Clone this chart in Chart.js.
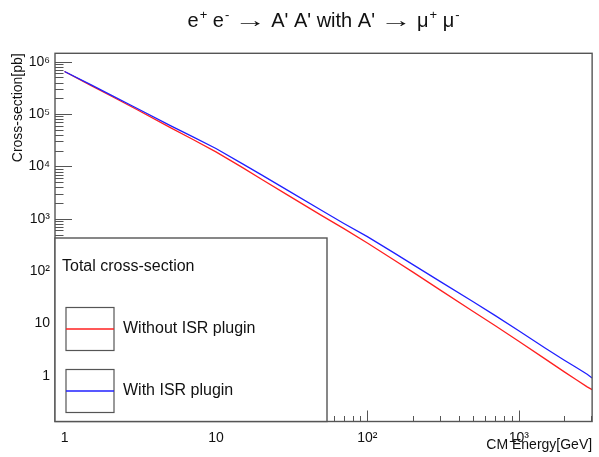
<!DOCTYPE html>
<html>
<head>
<meta charset="utf-8">
<script src="https://cdn.jsdelivr.net/npm/chart.js@4/dist/chart.umd.min.js"></script>
<style>
  html, body { margin: 0; padding: 0; background: #fff; }
  canvas { display: block; }
</style>
</head>
<body>
<canvas id="xsec" width="599" height="457"></canvas>
<script>
// ===== e+e- -> A'A' (A' -> mu+ mu-) total cross-section vs CM energy =====
const ENERGY      = [1, 1.5, 2, 3, 5, 7, 10, 15, 20, 30, 50, 70, 100, 150, 200, 300, 500, 700, 1000, 1500, 2000, 2400, 2830, 3050];
const XSEC_NO_ISR = [6.5e5, 3.5e5, 2.26e5, 1.22e5, 5.5e4, 3.3e4, 1.9e4, 9.5e3, 5.7e3, 2.8e3, 1150, 650, 347, 164, 96, 44.5, 17.1, 9.1, 4.6, 2.1, 1.2, 0.85, 0.62, 0.55];
const XSEC_ISR    = [6.5e5, 3.6e5, 2.35e5, 1.29e5, 6.0e4, 3.7e4, 2.2e4, 1.12e4, 6.9e3, 3.46e3, 1440, 817, 457, 224, 134, 64.7, 26.1, 14.2, 7.3, 3.4, 2.0, 1.45, 1.08, 0.92];

const X_MAJOR  = [1, 10, 100, 1000];
const X_LABELS = ["1", "10", "10²", "10³"];
const Y_MAJOR  = [1, 10, 100, 1e3, 1e4, 1e5, 1e6];
const Y_LABELS = ["1", "10", "10²", "10³", "10⁴", "10⁵", "10⁶"];
const X_RANGE  = [0.865, 3052];
const Y_RANGE  = [0.1355, 1.445e6];

// title as TLatex-like pieces: [text, superscript?]
const TITLE_PARTS = [["e"], ["+", 1], [" e"], ["-", 1], [" \u2192 ", "arrow"], ["A' A' with A'"], [" \u2192 ", "arrow"], ["\u03bc"], ["+", 1], [" \u03bc"], ["-", 1]];
const LEG_HEADER = "Total cross-section";

const FONT = "'Liberation Sans', Arial, Helvetica, sans-serif";
const INK = "#111", AXIS = "#555";
const RED = "#ff2020", BLUE = "#2020ff";

// decade ticks plus the 2..9 minors inside [lo, hi]
function logTicks(major, lo, hi) {
  const out = [];
  [major[0] / 10].concat(major).forEach(d => {
    for (let k = 1; k < 10; k++) {
      const v = d * k;
      if (v >= lo && v <= hi) out.push({ value: v, major: k === 1 });
    }
  });
  return out.sort((a, b) => a.value - b.value);
}

const pts = ys => ENERGY.map((e, i) => ({ x: e, y: ys[i] }));

// pad title with raised charges and long arrows
const latexTitle = {
  id: "latexTitle",
  afterDraw(chart) {
    const ctx = chart.ctx;
    const base = "20px " + FONT, sup = "13px " + FONT;
    const arrowW = 32, gap = 5;
    const width = p => {
      if (p[1] === "arrow") return arrowW + 2 * gap;
      ctx.font = p[1] ? sup : base;
      return ctx.measureText(p[0]).width + (p[1] ? 1 : 0);
    };
    const total = TITLE_PARTS.reduce((s, p) => s + width(p), 0);
    let x = 323.5 - total / 2;
    const baseline = 27;
    ctx.save();
    ctx.fillStyle = INK;
    ctx.textBaseline = "alphabetic";
    ctx.textAlign = "left";
    TITLE_PARTS.forEach(p => {
      if (p[1] === "arrow") {
        ctx.font = base;
        const w = ctx.measureText("\u2192").width;
        ctx.save();
        ctx.translate(x + gap, baseline);
        ctx.scale(arrowW / w, 1);
        ctx.fillText("\u2192", 0, 0);
        ctx.restore();
      } else {
        ctx.font = p[1] ? sup : base;
        ctx.fillText(p[0], x + (p[1] ? 1 : 0), p[1] ? baseline - 8 : baseline);
      }
      x += width(p);
    });
    ctx.restore();
  }
};

// ROOT style: ticks inside the frame, boxed frame, legend drawn over the lower-left corner
const rootFrame = {
  id: "rootFrame",
  afterDatasetsDraw(chart) {
    const { ctx, chartArea: a, scales: { x, y } } = chart;
    ctx.save();
    ctx.strokeStyle = AXIS;
    ctx.lineWidth = 1;
    ctx.beginPath();
    x.ticks.forEach(t => {
      const px = Math.round(x.getPixelForValue(t.value)) + 0.5;
      ctx.moveTo(px, a.bottom);
      ctx.lineTo(px, a.bottom - (t.major ? 11 : 5.5));
    });
    y.ticks.forEach(t => {
      const py = Math.round(y.getPixelForValue(t.value)) + 0.5;
      ctx.moveTo(a.left, py);
      ctx.lineTo(a.left + (t.major ? 17 : 8.5), py);
    });
    ctx.stroke();
    ctx.lineWidth = 1.4;
    ctx.strokeRect(a.left, a.top, a.right - a.left, a.bottom - a.top);
    ctx.restore();
  },
  afterDraw(chart) {
    const { ctx, chartArea: a } = chart;
    const bx = a.left, by = 238, bw = 272, bh = a.bottom - by;
    ctx.save();
    ctx.fillStyle = "#fff";
    ctx.fillRect(bx, by, bw, bh);
    ctx.strokeStyle = AXIS;
    ctx.lineWidth = 1.4;
    ctx.strokeRect(bx, by, bw, bh);

    ctx.fillStyle = INK;
    ctx.font = "16px " + FONT;
    ctx.textBaseline = "middle";
    ctx.textAlign = "left";
    ctx.fillText(LEG_HEADER, bx + 7, 267);

    const rows = [chart.data.datasets[0], chart.data.datasets[1]];
    const rowY = [329, 391];
    rows.forEach((ds, i) => {
      const cy = rowY[i];
      ctx.strokeStyle = AXIS;
      ctx.lineWidth = 1.2;
      ctx.strokeRect(bx + 11, cy - 21.5, 48, 43);
      ctx.strokeStyle = ds.borderColor;
      ctx.lineWidth = 1.3;
      ctx.beginPath();
      ctx.moveTo(bx + 11, cy);
      ctx.lineTo(bx + 59, cy);
      ctx.stroke();
      ctx.fillStyle = INK;
      ctx.fillText(ds.label, bx + 68, cy);
    });
    ctx.restore();
  }
};

new Chart(document.getElementById("xsec"), {
  type: "line",
  data: {
    datasets: [
      { label: "Without ISR plugin", data: pts(XSEC_NO_ISR), borderColor: RED, borderWidth: 1.3, pointRadius: 0, tension: 0, order: 1 },
      { label: "With ISR plugin", data: pts(XSEC_ISR), borderColor: BLUE, borderWidth: 1.3, pointRadius: 0, tension: 0, order: 0 }
    ]
  },
  options: {
    responsive: false,
    animation: false,
    devicePixelRatio: 1,
    layout: { padding: { left: 0, right: 2, top: 53.3, bottom: 0 } },
    plugins: {
      legend: { display: false },
      tooltip: { enabled: false },
      title: { display: false }
    },
    scales: {
      x: {
        type: "logarithmic", position: "bottom",
        min: X_RANGE[0], max: X_RANGE[1],
        afterBuildTicks: s => { s.ticks = logTicks(X_MAJOR, X_RANGE[0], X_RANGE[1]); },
        afterFit: s => { s.height = 35.5; },
        grid: { display: false, drawTicks: false },
        border: { display: false },
        ticks: {
          autoSkip: false, maxRotation: 0, padding: 8, color: INK,
          font: { family: FONT, size: 14 },
          callback: v => { const i = X_MAJOR.indexOf(v); return i < 0 ? "" : X_LABELS[i]; }
        },
        title: {
          display: true, text: "CM Energy[GeV]", align: "end", color: INK,
          font: { family: FONT, size: 14 }, padding: { top: 0, bottom: 3 }
        }
      },
      y: {
        type: "logarithmic", position: "left",
        min: Y_RANGE[0], max: Y_RANGE[1],
        afterBuildTicks: s => { s.ticks = logTicks(Y_MAJOR, Y_RANGE[0], Y_RANGE[1]); },
        afterFit: s => { s.width = 55; },
        grid: { display: false, drawTicks: false },
        border: { display: false },
        ticks: {
          autoSkip: false, padding: 5, color: INK,
          font: { family: FONT, size: 14 },
          callback: v => { const i = Y_MAJOR.indexOf(v); return i < 0 ? "" : Y_LABELS[i]; }
        },
        title: {
          display: true, text: "Cross-section[pb]", align: "end", color: INK,
          font: { family: FONT, size: 14 }, padding: { top: 10, bottom: 0 }
        }
      }
    }
  },
  plugins: [rootFrame, latexTitle]
});
</script>
</body>
</html>
